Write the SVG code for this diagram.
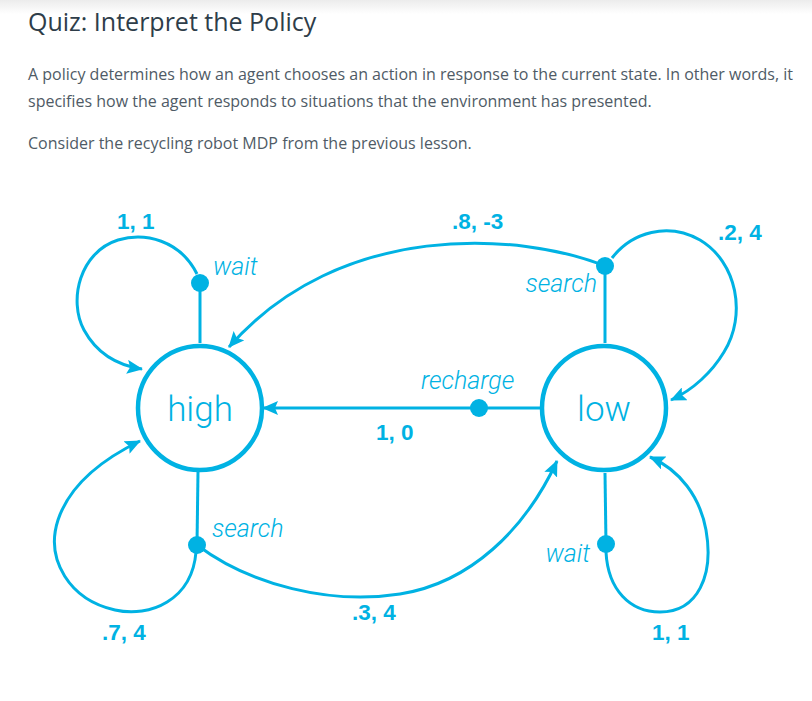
<svg xmlns="http://www.w3.org/2000/svg" width="812" height="701" viewBox="0 0 812 701">
<defs>
<linearGradient id="shade" x1="0" y1="0" x2="0" y2="1">
<stop offset="0" stop-color="#ececec"/>
<stop offset="1" stop-color="#ffffff"/>
</linearGradient>
<marker id="arr" viewBox="0 0 16 14" refX="15" refY="7" markerWidth="16" markerHeight="14" markerUnits="userSpaceOnUse" orient="auto">
<path d="M0,0 L16,7 L0,14 L3,7 Z" fill="#00b2e3"/>
</marker>
<style>
.title{font-family:"Open Sans","Liberation Sans",sans-serif;font-size:25px;fill:#2e3d49}
.para{font-family:"Open Sans","Liberation Sans",sans-serif;font-size:16px;fill:#4f5b66}
.state{fill:#fff;stroke:#00b2e3;stroke-width:4.5}
.st{font-family:"Roboto","Liberation Sans",sans-serif;font-weight:300;font-size:35px;fill:#00b2e3;text-anchor:middle}
.act{font-family:"Roboto","Liberation Sans",sans-serif;font-weight:300;font-style:italic;font-size:25px;fill:#00b2e3}
.pr{font-family:"Liberation Sans",sans-serif;font-weight:bold;font-size:22.5px;fill:#00b2e3}
.ln{fill:none;stroke:#00b2e3;stroke-width:3}
.arw{fill:none;stroke:#00b2e3;stroke-width:3;marker-end:url(#arr)}
.dot{fill:#00b2e3}
</style>
</defs>
<rect x="0" y="0" width="812" height="701" fill="#fff"/>
<rect x="0" y="0" width="812" height="14" fill="url(#shade)"/>
<text class="title" x="28" y="31">Quiz: Interpret the Policy</text>
<text class="para" x="28" y="80">A policy determines how an agent chooses an action in response to the current state. In other words, it</text>
<text class="para" x="28" y="107">specifies how the agent responds to situations that the environment has presented.</text>
<text class="para" x="28" y="149">Consider the recycling robot MDP from the previous lesson.</text>

<g id="connectors">
<!-- high wait -->
<path class="ln" d="M200,343 L200,283"/>
<path class="arw" d="M197,274 C180,240 145,232 118,240 C80,252 68,300 84,330 C96,352 115,365 142,369"/>
<!-- high search -->
<path class="ln" d="M198,472 L197,545"/>
<path class="arw" d="M196,552 C192,600 150,618 115,610 C70,600 45,560 58,520 C70,484 105,458 140,441"/>
<path class="arw" d="M197,545 C250,585 330,605 400,594 C470,583 525,530 557,461"/>
<!-- low search -->
<path class="ln" d="M605,343 L605,266"/>
<path class="arw" d="M605,266 C520,232 340,220 229,347"/>
<path class="arw" d="M612,258 C632,232 668,222 700,240 C737,262 747,315 724,352 C712,372 693,390 671,400"/>
<!-- low recharge -->
<path class="arw" d="M540,408 L263,408"/>
<!-- low wait -->
<path class="ln" d="M605,473 L606,544"/>
<path class="arw" d="M606,552 C608,590 630,612 660,612 C698,612 714,575 706,530 C700,497 680,470 650,457"/>
</g>

<g id="dots">
<circle class="dot" cx="200" cy="283" r="9"/>
<circle class="dot" cx="197" cy="545" r="9"/>
<circle class="dot" cx="605" cy="266" r="9"/>
<circle class="dot" cx="479" cy="408" r="9"/>
<circle class="dot" cx="606" cy="544" r="9"/>
</g>

<g id="high">
<circle class="state" cx="200" cy="408" r="62"/>
<text class="st" x="200" y="421">high</text>
</g>
<g id="low">
<circle class="state" cx="604" cy="408" r="62"/>
<text class="st" x="604" y="421">low</text>
</g>

<g id="labels">
<text class="pr" x="117" y="229">1, 1</text>
<text class="act" x="213" y="275">wait</text>
<text class="pr" x="452" y="229">.8, -3</text>
<text class="act" x="597" y="292" text-anchor="end">search</text>
<text class="pr" x="718" y="240">.2, 4</text>
<text class="act" x="421" y="389">recharge</text>
<text class="pr" x="376" y="440">1, 0</text>
<text class="act" x="212" y="537">search</text>
<text class="pr" x="102" y="640">.7, 4</text>
<text class="pr" x="352" y="620">.3, 4</text>
<text class="act" x="590" y="562" text-anchor="end">wait</text>
<text class="pr" x="652" y="640">1, 1</text>
</g>
</svg>
